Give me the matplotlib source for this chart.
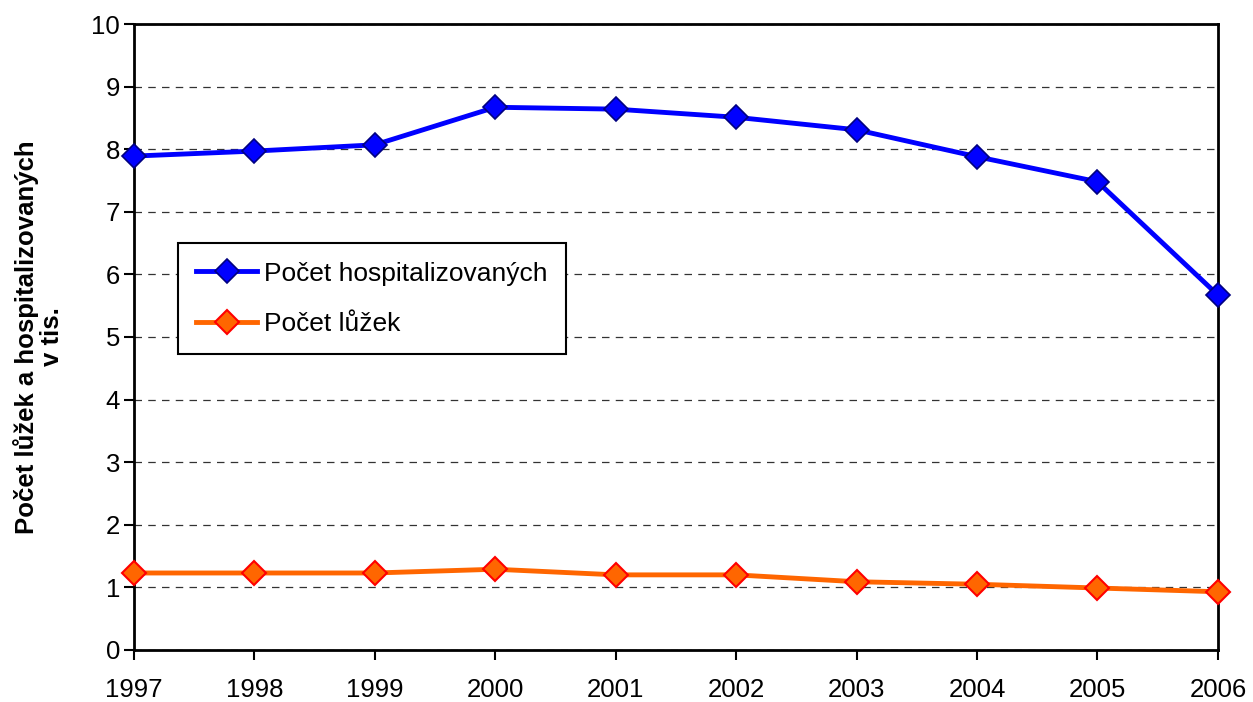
import matplotlib
matplotlib.use("Agg")
import matplotlib.pyplot as plt

years = [1997, 1998, 1999, 2000, 2001, 2002, 2003, 2004, 2005, 2006]
hospitalized = [7.89, 7.97, 8.07, 8.67, 8.64, 8.51, 8.31, 7.88, 7.48, 5.67]
beds = [1.23, 1.23, 1.23, 1.29, 1.20, 1.20, 1.09, 1.05, 0.99, 0.93]
yticks = list(range(0, 11))

plt.rcParams['font.family'] = ['Liberation Sans', 'DejaVu Sans']

fig = plt.figure(figsize=(12.53, 7.02), dpi=100)
ax = fig.add_axes([0.1069, 0.0741, 0.972 - 0.1069, 0.9658 - 0.0741])

ax.plot(years, hospitalized, color='#0000FF', lw=3.5, marker='D', ms=12,
        mfc='#0000FF', mec='#000080', mew=1.2, label='Počet hospitalizovaných',
        clip_on=False, zorder=3)
ax.plot(years, beds, color='#FF6600', lw=3.5, marker='D', ms=12,
        mfc='#FF6600', mec='#FF0000', mew=1.5, label='Počet lůžek',
        clip_on=False, zorder=3)

ax.set_xlim(1997, 2006)
ax.set_ylim(0, 10)
ax.set_xticks(years)
ax.set_xticklabels([str(y) for y in years])
ax.set_yticks(yticks)
ax.tick_params(axis='both', labelsize=18.5, direction='out', length=7, width=1.5)
ax.tick_params(axis='x', pad=13)
ax.tick_params(axis='y', pad=3)
for s in ax.spines.values():
    s.set_linewidth(2)
ax.grid(axis='y', linestyle=(0, (6, 5)), color='#333333', lw=0.9)
ax.set_axisbelow(True)

ax.set_ylabel('Počet lůžek a hospitalizovaných\nv tis.', fontsize=18.5,
              fontweight='bold', labelpad=20, linespacing=1.05)

leg = ax.legend(loc='upper left', bbox_to_anchor=(0.0406, 0.650), fontsize=19,
                frameon=True, fancybox=False, edgecolor='black', framealpha=1,
                handlelength=2.3, borderpad=0.7, labelspacing=1.0,
                handletextpad=0.25, borderaxespad=0)
leg.get_frame().set_linewidth(1.5)

fig.savefig('out.png', dpi=100)
